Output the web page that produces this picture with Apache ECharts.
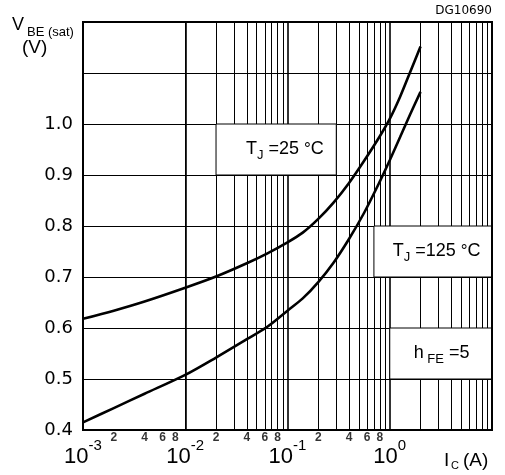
<!DOCTYPE html>
<html>
<head>
<meta charset="utf-8">
<script src="https://cdn.jsdelivr.net/npm/echarts@6/dist/echarts.min.js"></script>
<style>
  html, body { margin: 0; padding: 0; background: #fff; }
  #chart { width: 505px; height: 475px; }
</style>
</head>
<body>
<div id="chart"></div>
<script>
// VBE(sat) versus collector current, two junction temperatures
const currentsTj25 = [0.001, 0.002, 0.004, 0.01, 0.02, 0.04, 0.063, 0.1, 0.141, 0.2, 0.282, 0.398, 0.562, 0.794, 1.0, 1.26, 1.585, 2.0];
const vbeTj25 = [0.618, 0.634, 0.652, 0.679, 0.701, 0.727, 0.746, 0.768, 0.787, 0.814, 0.846, 0.884, 0.928, 0.975, 1.010, 1.053, 1.102, 1.152];

const currentsTj125 = [0.001, 0.002, 0.004, 0.01, 0.02, 0.04, 0.063, 0.1, 0.141, 0.2, 0.282, 0.398, 0.562, 0.794, 1.0, 1.26, 1.585, 2.0];
const vbeTj125 = [0.415, 0.443, 0.471, 0.508, 0.542, 0.578, 0.602, 0.634, 0.658, 0.690, 0.728, 0.774, 0.826, 0.886, 0.929, 0.974, 1.019, 1.063];

// axis ranges and ticks
const xMin = 0.001, xMax = 10;
const yMin = 0.4, yMax = 1.2, yStep = 0.1;
const yLabelMax = 1.0;
const decades = [0.001, 0.01, 0.1, 1];
const minorMultipliers = [2, 3, 4, 5, 6, 7, 8, 9];
const minorLabelValues = [0.002, 0.004, 0.006, 0.008, 0.02, 0.04, 0.06, 0.08, 0.2, 0.4, 0.6, 0.8];
const minorLabelTexts = ['2', '4', '6', '8', '2', '4', '6', '8', '2', '4', '6', '8'];

// white annotation boxes: [xFrom, xTo, yFrom, yTo]
const boxTj25 = [0.02, 0.3, 0.9, 1.0];
const boxTj125 = [0.7, 10, 0.7, 0.8];
const boxHfe = [1, 10, 0.5, 0.6];

const gridBox = { left: 83, top: 22, width: 409, height: 408 };
const FONT = 'Liberation Sans';

const minorGridValues = [];
decades.forEach(d => minorMultipliers.forEach(m => minorGridValues.push(+(d * m).toPrecision(3))));

const chart = echarts.init(document.getElementById('chart'), null, { renderer: 'canvas' });

const textRich = {
  t: { fontSize: 18, fontFamily: FONT, color: '#000', lineHeight: 24, verticalAlign: 'middle' },
  s: { fontSize: 13, fontFamily: FONT, color: '#000', lineHeight: 12, verticalAlign: 'bottom' },
  d: { fontSize: 17, fontFamily: FONT, color: '#000', lineHeight: 24, verticalAlign: 'middle' }
};

function boxArea(b, rich, distance) {
  return [
    { xAxis: b[0], yAxis: b[2], label: { show: true, position: 'insideRight', distance: distance, formatter: rich } },
    { xAxis: b[1], yAxis: b[3] }
  ];
}

function curve(name, xs, ys) {
  return {
    name: name,
    type: 'line',
    z: 5,
    smooth: 0.3,
    showSymbol: false,
    lineStyle: { color: '#000', width: 2.6 },
    data: xs.map((c, i) => [c, ys[i]])
  };
}

chart.setOption({
  animation: false,
  backgroundColor: '#fff',
  grid: { left: gridBox.left, top: gridBox.top, width: gridBox.width, height: gridBox.height },
  xAxis: {
    type: 'log',
    logBase: 10,
    min: xMin,
    max: xMax,
    axisLine: { show: false },
    axisTick: { show: false },
    splitLine: { show: true, lineStyle: { color: '#000', width: 1.6 } },
    axisLabel: {
      margin: 8,
      color: '#000',
      formatter: function (v) {
        const e = Math.round(Math.log10(v));
        if (e > 0) return '';
        return '{b|10}{p|' + (e < 0 ? '-' + (-e) : e) + '}';
      },
      rich: {
        b: { fontSize: 22, fontFamily: FONT, color: '#000', lineHeight: 30, verticalAlign: 'bottom' },
        p: { fontSize: 15, fontFamily: FONT, color: '#000', lineHeight: 8, verticalAlign: 'top' }
      }
    }
  },
  yAxis: {
    type: 'value',
    min: yMin,
    max: yMax,
    interval: yStep,
    axisLine: { show: false },
    axisTick: { show: false },
    splitLine: { show: true, lineStyle: { color: '#000', width: 1 } },
    axisLabel: {
      margin: 10,
      color: '#000',
      fontSize: 18,
      fontFamily: 'DejaVu Sans',
      formatter: function (v) {
        return v <= yLabelMax + 1e-9 ? v.toFixed(1) : '';
      }
    }
  },
  series: [
    {
      // minor vertical grid lines and the white annotation boxes
      type: 'line',
      data: [],
      silent: true,
      markLine: {
        z: 1,
        silent: true,
        symbol: ['none', 'none'],
        label: { show: false },
        lineStyle: { type: 'solid', color: '#000', width: 1 },
        data: minorGridValues.map(v => ({ xAxis: v }))
      },
      markArea: {
        z: 3,
        silent: true,
        itemStyle: { color: '#fff', borderColor: '#000', borderWidth: 1 },
        label: { rich: textRich },
        data: [
          boxArea(boxTj25, '{t|T}{s|J}{t| =25 }{d|°}{t|C}', 13),
          boxArea(boxTj125, '{t|T}{s|J}{t| =125 }{d|°}{t|C}', 12),
          boxArea(boxHfe, '{t|h}{s| FE}{t| =5}', 23)
        ]
      }
    },
    curve('TJ = 25 °C', currentsTj25, vbeTj25),
    curve('TJ = 125 °C', currentsTj125, vbeTj125),
    {
      // 2 4 6 8 labels under the axis
      type: 'scatter',
      silent: true,
      clip: false,
      symbolSize: 0.1,
      itemStyle: { color: 'rgba(0,0,0,0)' },
      label: {
        show: true,
        position: 'bottom',
        distance: 2,
        color: '#000',
        fontSize: 12,
        fontWeight: 'bold',
        fontFamily: FONT,
        formatter: p => p.value[2]
      },
      data: minorLabelValues.map((v, i) => [v, yMin, minorLabelTexts[i]])
    }
  ],
  graphic: [
    {
      type: 'rect', z: 100, silent: true,
      shape: { x: gridBox.left, y: gridBox.top, width: gridBox.width, height: gridBox.height },
      style: { fill: 'none', stroke: '#000', lineWidth: 2 }
    },
    { type: 'text', left: 12, top: 16, style: { text: 'V', font: '18px "Liberation Sans"', fill: '#000' } },
    { type: 'text', left: 27, top: 26, style: { text: 'BE (sat)', font: '13px "Liberation Sans"', fill: '#000' } },
    { type: 'text', left: 22, top: 38, style: { text: '(V)', font: '19px "Liberation Sans"', fill: '#000' } },
    { type: 'text', right: 13, top: 5, style: { text: 'DG10690', font: '12px "DejaVu Sans"', fill: '#000' } },
    { type: 'text', left: 444, top: 451, style: { text: 'I', font: '19px "Liberation Sans"', fill: '#000' } },
    { type: 'text', left: 451, top: 460, style: { text: 'C', font: '11px "Liberation Sans"', fill: '#000' } },
    { type: 'text', left: 463, top: 451, style: { text: '(A)', font: '19px "Liberation Sans"', fill: '#000' } }
  ]
});
</script>
</body>
</html>
